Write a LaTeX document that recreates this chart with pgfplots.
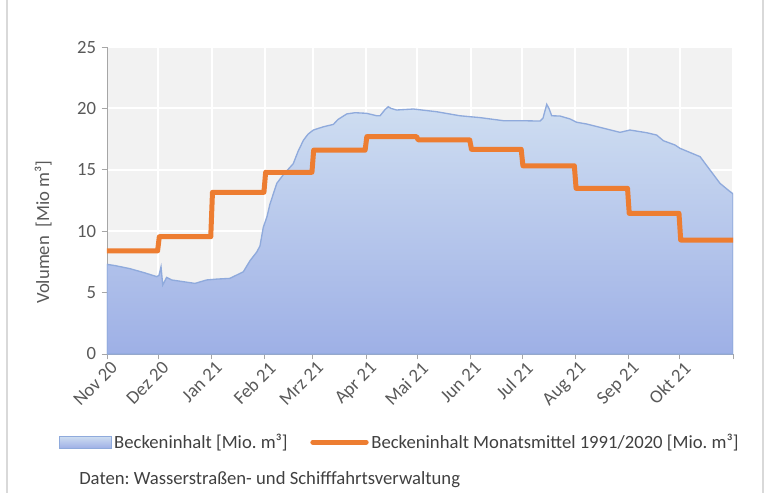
\documentclass[border=0pt]{standalone}
\usepackage{pgfplots}
\pgfplotsset{compat=1.18}
\usepackage{fontspec}
\setmainfont{Carlito}
\frenchspacing
\definecolor{bgray}{HTML}{F2F2F2}
\definecolor{axgray}{HTML}{A6A6A6}
\definecolor{txt}{HTML}{595959}
\definecolor{ltxt}{HTML}{404040}
\definecolor{orng}{HTML}{ED7D31}
\definecolor{aline}{HTML}{8FAADC}
\definecolor{atop}{HTML}{CFDEF1}
\definecolor{abot}{HTML}{9EB0E6}
\definecolor{frame}{HTML}{D9D9D9}

\begin{document}
\frenchspacing
\begin{tikzpicture}[x=1pt,y=1pt]
\useasboundingbox (0,0) rectangle (576.75,-369.75);
\draw[frame, line width=1pt] (5.25,0) -- (5.25,-369.75);
\draw[frame, line width=1pt] (572.25,0) -- (572.25,-369.75);
\begin{axis}[
    at={(80.25pt,-265.5pt)}, anchor=south west,
    scale only axis, width=469.5pt, height=230.25pt,
    xmin=0, xmax=365, ymin=0, ymax=25,
    axis background/.style={fill=bgray},
    axis line style={axgray},
    axis x line*=bottom, axis y line*=left,
    xtick={0,30,61,92,120,151,181,212,242,273,304,334,365},
    xticklabels={Nov 20,Dez 20,Jan 21,Feb 21,Mrz 21,Apr 21,Mai 21,Jun 21,Jul 21,Aug 21,Sep 21,Okt 21,},
    ytick={0,5,10,15,20,25},
    /pgf/number format/assume math mode=true,
    grid=major, major grid style={white, line width=1.5pt},
    tick align=outside, major tick length=4pt,
    tick style={axgray, line width=0.6pt},
    ticklabel style={font=\fontsize{14}{16}\selectfont, text=txt},
    xticklabel style={rotate=45, anchor=north east, inner sep=1pt, xshift=2pt, yshift=-1pt},
    yticklabel style={inner sep=4pt},
    ylabel={Volumen\ \ [Mio m³]},
    every axis y label/.style={at={(axis description cs:-0.102,0.397)}, rotate=90, anchor=center, font=\fontsize{14}{16}\selectfont, text=txt},
    legend columns=2,
    legend style={at={(axis description cs:0.468,-0.287)}, anchor=center, draw=none, fill=none,
        font=\fontsize{14}{16}\selectfont, text=ltxt,
        /tikz/every even column/.append style={column sep=15pt}},
]
\addplot[draw=aline, line width=1pt, top color=atop, bottom color=abot,
    legend image code/.code={\draw[aline, line width=0.6pt, top color=atop, bottom color=abot] (0pt,-4.5pt) rectangle (39pt,4.5pt);}]
coordinates {
(0,7.30) (4.7,7.2) (13.4,6.95) (22.2,6.6) (29.0,6.30) (30.3,6.4) (31.5,7.1) (32.5,5.62)
(34.8,6.24) (37.7,6.03) (51.3,5.75) (58.1,6.03) (64.0,6.1) (71.7,6.16) (75.6,6.43)
(79.5,6.7) (83.4,7.6) (87.3,8.3) (89.2,8.8) (91.1,10.3) (93.3,11.2) (95.0,12.2)
(99.0,13.9) (102.8,14.6) (108.6,15.5) (111.4,16.5) (114.5,17.4) (117.2,17.9)
(120.3,18.24) (126.1,18.5) (132.0,18.7) (134.7,19.1) (139.8,19.55) (144.6,19.65)
(151.4,19.6) (157.3,19.4) (159.2,19.4) (162.1,19.9) (164.0,20.14) (165.6,20.0)
(168.9,19.87) (178.6,19.95) (192.2,19.73) (205.8,19.4) (217.5,19.25) (231.1,19.0)
(240.8,19.0) (252.5,18.97) (254.2,19.2) (256.4,20.33) (257.7,20.0) (259.3,19.4)
(264.1,19.38) (270.0,19.14) (273.9,18.87) (279.7,18.73) (299.1,18.05) (304.9,18.24)
(314.7,18.02) (320.5,17.83) (324.4,17.37) (331.2,17.02) (334.1,16.75) (345.8,16.07)
(351.6,14.98) (357.4,13.9) (363.3,13.22) (365,13.05)
} \closedcycle;
\addlegendentry{Beckeninhalt [Mio.\ m³]}
\addplot[orng, line width=3.75pt, line cap=round, line join=round,
    legend image code/.code={\draw[orng, line width=3.75pt, line cap=round] (0pt,0pt) -- (40pt,0pt);}]
coordinates {
(0,8.40) (29.5,8.40) (30.5,9.55) (60.5,9.55) (61.5,13.17) (91.5,13.17) (92.5,14.80)
(119.5,14.80) (120.5,16.60) (150.5,16.60) (151.5,17.70) (180.5,17.70) (181.5,17.43)
(211.5,17.43) (212.5,16.67) (241.5,16.67) (242.5,15.33) (272.5,15.33) (273.5,13.49)
(303.5,13.49) (304.5,11.45) (333.5,11.45) (334.5,9.28) (365,9.28)
};
\addlegendentry{Beckeninhalt Monatsmittel 1991/2020 [Mio.\ m³]}
\end{axis}
\node[anchor=west, inner sep=0pt, text=ltxt, font=\fontsize{14}{16}\selectfont] at (59.25,-360) {Daten:\ Wasserstraßen- und Schifffahrtsverwaltung};
\end{tikzpicture}
\end{document}
